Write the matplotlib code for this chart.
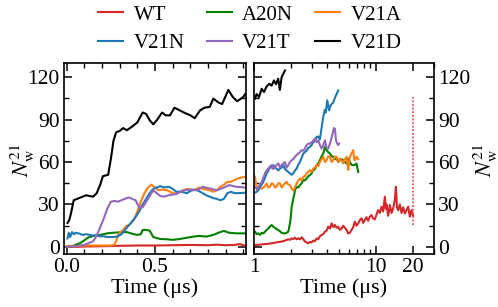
import matplotlib
matplotlib.use("Agg")
import matplotlib.pyplot as plt
from matplotlib.ticker import MultipleLocator, FixedLocator, NullFormatter

plt.rcParams['font.family'] = ['Liberation Serif', 'DejaVu Serif']
plt.rcParams['mathtext.fontset'] = 'stix'

# ---------------- data: left panel (0-1 us, linear) ----------------
wt_l_t = [0.0, 0.05, 0.1, 0.2, 0.3, 0.4, 0.5, 0.6, 0.7, 0.8, 0.85, 0.9, 0.95, 0.98, 1.01]
wt_l_v = [0, 0, 0.3, 0.5, 0.8, 1, 1, 1.2, 1.4, 1.2, 1.6, 1.2, 1.4, 2, 0.8]

a20n_l_t = [0.0, 0.03, 0.05, 0.075, 0.09, 0.12, 0.15, 0.19, 0.23, 0.26, 0.30, 0.34, 0.38, 0.40,
            0.42, 0.43, 0.45, 0.47, 0.49, 0.53, 0.57, 0.60, 0.64, 0.68, 0.72, 0.75, 0.79, 0.83,
            0.87, 0.89, 0.92, 0.96, 1.01]
a20n_l_v = [0, 0.5, 1.4, 2.6, 3.8, 6.5, 7.8, 8.5, 9.6, 10, 10.3, 10.5, 9, 8.5,
            9, 12, 12, 11.5, 7, 5.6, 5.4, 5, 5.6, 6.5, 7.3, 7.8, 7.3, 8.5,
            10.5, 11.3, 10, 9.6, 9.6]

v21a_l_t = [0.0, 0.05, 0.1, 0.15, 0.2, 0.25, 0.27, 0.28, 0.29, 0.30, 0.32, 0.34, 0.36, 0.38,
            0.40, 0.42, 0.44, 0.46, 0.48, 0.50, 0.52, 0.54, 0.57, 0.60, 0.62, 0.64, 0.66, 0.68,
            0.70, 0.72, 0.75, 0.77, 0.79, 0.81, 0.83, 0.85, 0.87, 0.89, 0.91, 0.93, 0.94, 0.97,
            0.99, 1.01]
v21a_l_v = [0.5, 0.5, 1, 1, 1, 1, 1.5, 4, 8, 10, 12, 15, 16, 19,
            25, 32, 38, 42, 44, 42, 40, 40.5, 40, 38, 37.8, 39, 40, 41,
            40.5, 40, 42, 41, 40.6, 40, 39, 40, 42.5, 44, 46, 46, 46.7, 48.4,
            49, 49.6]

v21n_l_t = [0.005, 0.012, 0.02, 0.03, 0.04, 0.05, 0.07, 0.09, 0.11, 0.13, 0.15, 0.17, 0.19,
            0.21, 0.23, 0.25, 0.27, 0.29, 0.31, 0.33, 0.35, 0.37, 0.39, 0.41, 0.43, 0.45, 0.47,
            0.49, 0.51, 0.53, 0.55, 0.58, 0.60, 0.62, 0.65, 0.68, 0.70, 0.72, 0.74, 0.77, 0.79,
            0.81, 0.83, 0.85, 0.87, 0.89, 0.91, 0.93, 0.95, 0.97, 1.01]
v21n_l_v = [6, 10, 7, 10.5, 9, 10, 9.5, 8.5, 9, 8.5, 8, 8, 7.5,
            7.5, 7, 7, 7, 7.5, 9, 12, 15, 18, 21, 25, 30, 34, 38,
            41, 42, 43, 42, 42.5, 41, 39, 39, 38, 39.5, 40.5, 40, 38, 36.5,
            35.5, 34.5, 34, 33, 34, 38, 39, 38, 38, 38.3]

v21t_l_t = [0.0, 0.05, 0.10, 0.13, 0.15, 0.17, 0.19, 0.21, 0.23, 0.25, 0.27, 0.29, 0.31, 0.33,
            0.35, 0.37, 0.39, 0.41, 0.43, 0.45, 0.47, 0.49, 0.51, 0.53, 0.55, 0.58, 0.62, 0.66,
            0.70, 0.74, 0.77, 0.81, 0.85, 0.89, 0.92, 0.96, 1.01]
v21t_l_v = [0, 0.5, 1.5, 3, 4, 8, 14, 20, 27, 32, 32.5, 32, 33, 34,
            35, 34, 33, 28, 28, 32, 36, 40, 38, 36, 35.5, 36.6, 37.4, 40,
            40.6, 40, 42.5, 41.3, 40, 42, 43.7, 42.5, 42]

v21d_l_t = [0.005, 0.015, 0.025, 0.04, 0.06, 0.08, 0.11, 0.13, 0.15, 0.17, 0.19, 0.205, 0.22,
            0.235, 0.25, 0.265, 0.28, 0.30, 0.32, 0.34, 0.37, 0.40, 0.43, 0.45, 0.47, 0.49, 0.51,
            0.54, 0.56, 0.585, 0.61, 0.64, 0.67, 0.70, 0.725, 0.755, 0.78, 0.81, 0.83, 0.86, 0.88,
            0.915, 0.94, 0.965, 1.0, 1.01]
v21d_l_v = [17, 19, 24, 33, 34, 35, 36.5, 36, 35.5, 38, 44, 50, 50.5,
            51, 62, 75, 81, 82, 84, 82.5, 85, 88, 95, 94, 89.5, 86.7, 89.5,
            95, 93, 93, 98.4, 96.5, 94.6, 93, 91, 96.5, 98.4, 99, 104.8, 102, 101,
            111, 106, 103, 106, 108]

# ---------------- data: right panel (1-30 us, log) ----------------
wt_r_t = [1.019, 1.085, 1.156, 1.231, 1.311, 1.396, 1.486, 1.583, 1.686, 1.796, 1.912, 1.973,
          2.036, 2.101, 2.168, 2.238, 2.309, 2.383, 2.459, 2.538, 2.618, 2.702, 2.789, 2.877,
          2.970, 3.064, 3.162, 3.263, 3.368, 3.475, 3.586, 3.701, 3.819, 3.941, 4.067, 4.198,
          4.332, 4.470, 4.612, 4.760, 4.912, 5.069, 5.231, 5.398, 5.570, 5.748, 5.932, 6.121,
          6.317, 6.518, 6.727, 6.941, 7.163, 7.392, 7.63, 7.87, 8.12, 8.38, 8.65, 8.93, 9.21,
          9.509, 9.81, 10.13, 10.45, 10.79, 11.13, 11.48, 11.85, 12.08, 12.23, 12.62, 13.03,
          13.45, 13.87, 14.3, 14.6, 14.9, 15.24, 15.73, 16.24, 16.75, 17.29, 17.84, 18.4, 19.0,
          19.6, 20.23]
wt_r_v = [1.4, 1.5, 1.8, 2, 2.2, 2.6, 3, 3.4, 3.8, 4.5, 5.4, 5,
          6, 5.6, 6.5, 5.4, 6, 5.4, 6.8, 5.5, 3.8, 3.2, 2.6, 3.5,
          3.2, 4.5, 4, 6, 5.5, 7.5, 8.5, 9, 10.8, 11.5, 14.3, 13,
          16.7, 14, 15.5, 13.5, 14.3, 12, 13, 15, 13.5, 12, 9.5, 10,
          12, 14, 17.9, 15, 16.7, 19, 20.2, 17, 19, 21, 18.5, 21.4, 22.5,
          20, 19.5, 23, 26, 24, 28.4, 25, 35.5, 27, 30, 22, 29.6,
          24, 27.2, 33, 42.5, 28, 26, 30, 24, 28, 23.7, 26, 28.4, 21.4,
          26, 22]

a20n_r_t = [1.019, 1.052, 1.085, 1.120, 1.156, 1.193, 1.231, 1.270, 1.311, 1.352, 1.396, 1.440,
            1.486, 1.534, 1.583, 1.634, 1.686, 1.740, 1.796, 1.853, 1.912, 1.973, 2.01, 2.036,
            2.07, 2.101, 2.14, 2.168, 2.238, 2.309, 2.383, 2.459, 2.538, 2.618, 2.702, 2.789,
            2.877, 2.970, 3.064, 3.162, 3.263, 3.368, 3.475, 3.586, 3.701, 3.819, 3.941, 4.067,
            4.198, 4.332, 4.470, 4.612, 4.760, 4.912, 5.069, 5.231, 5.398, 5.570, 5.748, 5.932,
            6.121, 6.317, 6.518, 6.727, 6.941, 7.163]
a20n_r_v = [10.8, 9, 9.6, 8.5, 10, 9.5, 10.8, 12, 13, 14.5, 15.5, 14.3,
            13.5, 12.5, 12, 11, 10, 9.6, 9.6, 10, 10.8, 16.7, 22, 28.4,
            31, 34.3, 37, 40, 42.5, 42, 43.7, 45, 47.2, 47, 48.4, 50,
            50.7, 52, 54.3, 55, 57.8, 59, 61.3, 64, 66, 70.7, 68.4, 67,
            66, 64, 63.7, 62, 62.5, 60, 61.3, 62, 61.3, 60, 59, 62.5,
            60, 58, 57.8, 58, 59, 53]

v21a_r_t = [1.019, 1.04, 1.066, 1.120, 1.156, 1.193, 1.231, 1.270, 1.311, 1.352, 1.396, 1.440,
            1.486, 1.534, 1.583, 1.634, 1.686, 1.740, 1.796, 1.853, 1.912, 1.973, 2.036, 2.101,
            2.168, 2.238, 2.309, 2.383, 2.459, 2.538, 2.618, 2.702, 2.789, 2.877, 2.970, 3.064,
            3.162, 3.263, 3.368, 3.475, 3.586, 3.701, 3.819, 3.941, 4.067, 4.198, 4.332, 4.470,
            4.612, 4.760, 4.912, 5.069, 5.231, 5.398, 5.570, 5.748, 5.86, 5.932, 6.04, 6.121,
            6.317, 6.518, 6.64, 6.727, 6.941, 7.163]
v21a_r_v = [49.6, 44, 40, 42.5, 41, 42, 43, 44.9, 42, 42.5, 45, 44.4,
            42, 43, 45, 44.9, 42, 43.7, 45, 46, 44, 43.7, 41, 40,
            42, 44.9, 47, 48.4, 47, 49.6, 50, 52, 53, 54.3, 53, 55.4,
            56, 57.8, 57, 60, 62, 63.7, 60, 61.3, 64, 63.7, 60, 61.3,
            64, 63.7, 60, 62.5, 61, 59, 62, 63.7, 58, 54.3, 60, 63.7,
            66, 68.4, 62, 61.3, 63.7, 62]

v21n_r_t = [1.019, 1.052, 1.085, 1.120, 1.156, 1.193, 1.231, 1.270, 1.311, 1.352, 1.396, 1.440,
            1.486, 1.534, 1.583, 1.634, 1.686, 1.740, 1.796, 1.853, 1.912, 1.973, 2.036, 2.101,
            2.168, 2.238, 2.309, 2.383, 2.459, 2.538, 2.618, 2.702, 2.789, 2.877, 2.970, 3.064,
            3.162, 3.263, 3.368, 3.475, 3.586, 3.701, 3.819, 3.89, 3.99, 4.14, 4.25, 4.33,
            4.47, 4.53, 4.64, 4.76, 4.91]
v21n_r_v = [38.3, 39, 40, 42.5, 44, 46, 49, 52, 54, 56.6, 56, 57.8,
            56, 55.4, 54, 55.4, 56, 57.8, 55, 54, 53, 52, 51, 52,
            54, 55.4, 58, 60, 63, 66, 67, 68, 70, 70.7, 72, 74,
            75, 77.8, 78, 76, 84, 92, 97, 95, 103.6, 96.5, 100, 101,
            102, 103.6, 106, 108, 110.6]

v21t_r_t = [1.019, 1.052, 1.085, 1.120, 1.156, 1.193, 1.231, 1.270, 1.311, 1.352, 1.396, 1.440,
            1.486, 1.534, 1.583, 1.634, 1.686, 1.740, 1.796, 1.853, 1.912, 1.973, 2.036, 2.101,
            2.168, 2.238, 2.309, 2.383, 2.459, 2.538, 2.618, 2.702, 2.789, 2.877, 2.970, 3.064,
            3.162, 3.263, 3.368, 3.475, 3.586, 3.701, 3.819, 3.941, 4.067, 4.198, 4.332, 4.41,
            4.53, 4.612, 4.70, 4.760, 4.912, 5.0]
v21t_r_v = [42.5, 41, 42.5, 44, 46, 49, 52, 54, 55.4, 57, 57.8, 55,
            56.6, 58, 59, 56, 57.8, 59, 60, 56, 57.8, 60, 61.3, 62,
            63.7, 65, 66, 67, 68.4, 68, 69.5, 72, 73, 73, 74, 75,
            76.6, 74, 75.4, 72, 69.5, 72, 75.4, 70, 69.5, 73, 77, 80,
            84, 83.6, 76, 74, 72, 73]

v21d_r_t = [1.02, 1.05, 1.10, 1.156, 1.208, 1.27, 1.335, 1.396, 1.458, 1.515, 1.58, 1.63,
            1.686, 1.74, 1.796]
v21d_r_v = [104.8, 108, 106, 111.8, 109.5, 113.5, 115.3, 114, 117.7, 115, 118.9, 111,
            120, 122.4, 124.7]

wt_dotted_t = [20, 20]
wt_dotted_v = [15.5, 106]

labels = ['WT', 'A20N', 'V21A', 'V21N', 'V21T', 'V21D']
colors = ['#d62728', '#008000', '#ff7f0e', '#1f77b4', '#9467bd', '#000000']

left_series = [(wt_l_t, wt_l_v), (a20n_l_t, a20n_l_v), (v21a_l_t, v21a_l_v),
               (v21n_l_t, v21n_l_v), (v21t_l_t, v21t_l_v), (v21d_l_t, v21d_l_v)]
right_series = [(wt_r_t, wt_r_v), (a20n_r_t, a20n_r_v), (v21a_r_t, v21a_r_v),
                (v21n_r_t, v21n_r_v), (v21t_r_t, v21t_r_v), (v21d_r_t, v21d_r_v)]

yticks = [0, 30, 60, 90, 120]

fig = plt.figure(figsize=(4.98, 3.07), dpi=100)
ax1 = fig.add_axes([64/498, 1-254/307, (246-64)/498, (254-63)/307])
ax2 = fig.add_axes([254/498, 1-254/307, (434-254)/498, (254-63)/307])

lw = 1.5
handles = []
for (t, v), lab, c in zip(left_series, labels, colors):
    h, = ax1.plot(t, v, color=c, lw=lw, label=lab)
    handles.append(h)
for (t, v), c in zip(right_series, colors):
    ax2.plot(t, v, color=c, lw=lw)
ax2.plot(wt_dotted_t, wt_dotted_v, color='#e8505b', lw=1.3, linestyle=(0, (1, 1.0)))

fs_tick = 15.5
fs_lab = 16
ylab = r'$N_\mathrm{w}^{21}$'

ax1.set_xlim(-0.015, 1.015)
ax1.set_ylim(-5, 130)
ax1.set_xticks([0, 0.5])
ax1.set_xticklabels(['0.0', '0.5'])
ax1.xaxis.set_minor_locator(MultipleLocator(0.1))
ax1.set_yticks(yticks)
ax1.yaxis.set_minor_locator(MultipleLocator(15))
ax1.tick_params(which='both', direction='in', top=True, right=True, labelsize=fs_tick, pad=3)
ax1.tick_params(which='major', length=6, width=1.1)
ax1.tick_params(which='minor', length=3.5, width=1.0)
ax1.set_xlabel('Time (μs)', fontsize=fs_lab, labelpad=1)
ax1.set_ylabel(ylab, fontsize=fs_lab)
ax1.yaxis.set_label_coords((37-64)/182, 0.49)

ax2.set_xscale('log')
ax2.set_xlim(1, 30)
ax2.set_ylim(-5, 130)
ax2.xaxis.set_major_locator(FixedLocator([1, 10, 20]))
ax2.set_xticklabels(['1', '10', '20'])
ax2.xaxis.set_minor_locator(FixedLocator([2, 3, 4, 5, 6, 7, 8, 9, 30]))
ax2.xaxis.set_minor_formatter(NullFormatter())
ax2.set_yticks(yticks)
ax2.yaxis.set_minor_locator(MultipleLocator(15))
ax2.tick_params(which='both', direction='in', top=True, right=True, left=True,
                labelleft=False, labelright=True, labelsize=fs_tick, pad=3)
ax2.tick_params(which='major', length=6, width=1.1)
ax2.tick_params(which='minor', length=3.5, width=1.0)
ax2.set_xlabel('Time (μs)', fontsize=fs_lab, labelpad=1)
ax2.yaxis.set_label_position('right')
ax2.set_ylabel(ylab, fontsize=fs_lab, rotation=90)
ax2.yaxis.set_label_coords((471-254)/180, 0.49)

for ax in (ax1, ax2):
    for s in ax.spines.values():
        s.set_linewidth(1.2)

order = [0, 3, 1, 4, 2, 5]
fig.legend([handles[i] for i in order], [labels[i] for i in order], ncol=3,
           loc='upper center', bbox_to_anchor=(0.502, 1.045), frameon=False,
           fontsize=15, handlelength=1.2, handletextpad=0.5, columnspacing=1.05,
           labelspacing=0.45)

fig.savefig('out.png', dpi=100)
